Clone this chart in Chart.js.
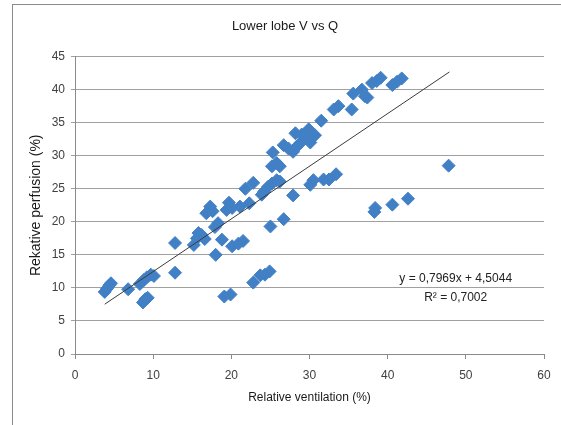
<!DOCTYPE html>
<html>
<head>
<meta charset="utf-8">
<script src="https://cdn.jsdelivr.net/npm/chart.js@4.4.1/dist/chart.umd.min.js"></script>
<style>
  html, body { margin: 0; padding: 0; background: #fff; overflow: hidden; }
  #frame { position: absolute; left: 12px; top: 4px; width: 600px; height: 500px; border: 1px solid #8a8a8a; }
  #wrap { position: absolute; left: 0; top: 0; width: 561px; height: 425px; }
</style>
</head>
<body>
<div id="frame"></div>
<div id="wrap"><canvas id="chart"></canvas></div>
<script>
// Lower lobe V vs Q
const ventilation = [
  3.8, 4.1, 4.4, 4.6, 6.8, 8.3, 8.8, 9.2, 9.7, 10.1, 8.7, 9.0, 9.3, 12.8, 12.8,
  15.2, 15.6, 15.8, 16.2, 16.6, 16.8, 17.3, 17.6, 18.0, 17.9, 18.3, 18.8, 19.4, 19.7, 20.1,
  21.1, 22.3, 19.1, 19.9, 20.1, 20.9, 21.5, 21.8, 22.8, 22.8, 23.7, 24.3, 24.9, 23.9, 24.2,
  24.7, 25.2, 25.8, 26.2, 25.0, 26.7, 25.2, 25.8, 26.2, 25.3, 26.7, 27.3, 27.9, 28.4, 28.8,
  28.2, 29.0, 29.4, 29.9, 30.1, 30.3, 30.7, 31.5, 27.9, 30.1, 30.5, 31.8, 32.5, 33.4, 33.1,
  33.7, 35.4, 35.6, 36.7, 37.1, 37.4, 38.0, 38.6, 39.1, 38.3, 38.4, 40.6, 42.6, 40.6, 41.2,
  41.8, 47.8
];
const perfusion = [
  9.4, 9.9, 10.4, 10.7, 9.8, 10.6, 11.2, 11.6, 12.0, 11.8, 7.8, 8.3, 8.5, 16.8, 12.3,
  16.5, 17.5, 18.3, 18.0, 17.4, 21.3, 22.3, 21.6, 15.0, 19.2, 19.8, 17.3, 21.8, 22.9, 22.1,
  22.3, 22.8, 8.7, 9.0, 16.3, 16.7, 17.1, 25.0, 25.9, 10.8, 11.9, 12.0, 12.5, 24.1, 24.6,
  25.3, 25.8, 26.3, 26.1, 19.3, 20.4, 28.4, 28.9, 28.4, 30.5, 31.6, 31.1, 30.6, 31.4, 31.9,
  33.4, 33.2, 32.6, 34.0, 32.0, 32.7, 33.1, 35.3, 24.0, 25.6, 26.3, 26.4, 26.4, 27.2, 37.0,
  37.5, 37.0, 39.4, 40.0, 39.0, 38.8, 41.0, 41.3, 41.8, 21.5, 22.1, 22.6, 23.5, 40.7, 41.2,
  41.7, 28.5
];

// Linear trend line shown in the chart
const trendSlope = 0.7969;
const trendIntercept = 4.5044;
const trendRange = [3.8, 47.9];
const equationLines = ['y = 0,7969x + 4,5044', 'R² = 0,7002'];

const xTicks = [0, 10, 20, 30, 40, 50, 60];
const yTicks = [0, 5, 10, 15, 20, 25, 30, 35, 40, 45];

const FONT = "'Liberation Sans', Arial, sans-serif";
const TEXT_COLOR = '#404040';

const points = ventilation.map((v, i) => ({ x: v, y: perfusion[i] }));
const trendPoints = trendRange.map((x) => ({ x, y: trendSlope * x + trendIntercept }));

// Draws the regression equation text
const equationPlugin = {
  id: 'equation',
  afterDatasetsDraw(chart) {
    const { ctx, scales } = chart;
    const cx = scales.x.getPixelForValue(48.7);
    ctx.save();
    ctx.font = '12px ' + FONT;
    ctx.fillStyle = '#222';
    ctx.textAlign = 'center';
    ctx.textBaseline = 'middle';
    ctx.fillText(equationLines[0], cx, scales.y.getPixelForValue(11.4));
    ctx.fillText(equationLines[1], cx, scales.y.getPixelForValue(8.5));
    ctx.restore();
  }
};

new Chart(document.getElementById('chart'), {
  type: 'scatter',
  data: {
    datasets: [
      {
        label: 'Lower lobe',
        data: points,
        pointStyle: 'rectRot',
        pointRadius: 6.5,
        pointBackgroundColor: '#4280C6',
        pointBorderColor: '#4280C6',
        pointBorderWidth: 1,
        order: 1
      },
      {
        label: 'Trend',
        type: 'line',
        data: trendPoints,
        borderColor: '#3a3a3a',
        borderWidth: 1,
        pointRadius: 0,
        fill: false,
        order: 0
      }
    ]
  },
  options: {
    responsive: true,
    maintainAspectRatio: false,
    animation: false,
    layout: {
      padding: { left: 26, right: 17, top: 0, bottom: 17 }
    },
    plugins: {
      legend: { display: false },
      tooltip: { enabled: false },
      title: {
        display: true,
        text: 'Lower lobe V vs Q',
        color: '#1a1a1a',
        font: { family: FONT, size: 13, weight: 'normal' },
        padding: { top: 19, bottom: 22 }
      }
    },
    scales: {
      x: {
        type: 'linear',
        min: 0,
        max: 60,
        afterFit: (scale) => { scale.height = 54; },
        afterBuildTicks: (scale) => { scale.ticks = xTicks.map((v) => ({ value: v })); },
        border: { display: true, color: '#8a8a8a', width: 1 },
        grid: { drawOnChartArea: false, drawTicks: true, tickLength: 5, color: '#8a8a8a' },
        ticks: { color: TEXT_COLOR, font: { family: FONT, size: 12 }, padding: 9, maxRotation: 0 },
        title: {
          display: true,
          text: 'Relative ventilation (%)',
          color: '#1a1a1a',
          font: { family: FONT, size: 12 },
          padding: { top: 0, bottom: 3 }
        }
      },
      y: {
        type: 'linear',
        min: 0,
        max: 45,
        afterFit: (scale) => { scale.width = 49; },
        afterBuildTicks: (scale) => { scale.ticks = yTicks.map((v) => ({ value: v })); },
        border: { display: true, color: '#8a8a8a', width: 1 },
        grid: { drawOnChartArea: true, drawTicks: true, tickLength: 4, color: '#a0a0a0' },
        ticks: { color: TEXT_COLOR, font: { family: FONT, size: 12 }, padding: 6 },
        title: {
          display: true,
          text: 'Rekative perfusion (%)',
          color: '#1a1a1a',
          font: { family: FONT, size: 14 },
          padding: { top: 2, bottom: 0 }
        }
      }
    }
  },
  plugins: [equationPlugin]
});
</script>
</body>
</html>
